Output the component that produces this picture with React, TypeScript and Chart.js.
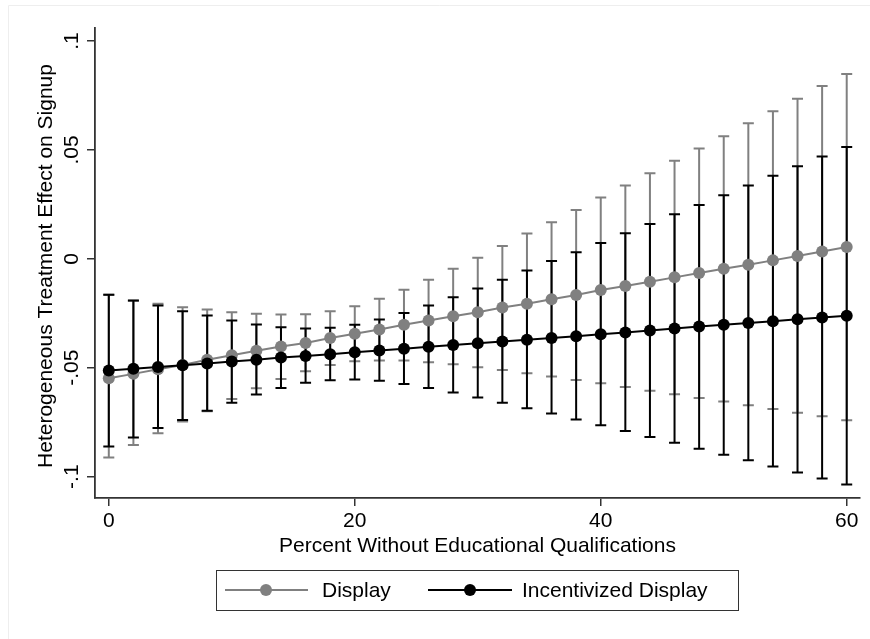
import React, { useEffect, useRef } from "react";
import { Chart, registerables } from "chart.js";

Chart.register(...registerables);

const xValues = [0, 2, 4, 6, 8, 10, 12, 14, 16, 18, 20, 22, 24, 26, 28, 30, 32, 34, 36, 38, 40, 42, 44, 46, 48, 50, 52, 54, 56, 58, 60];

const displayEst = [-0.0548, -0.0528, -0.0507, -0.0487, -0.0463, -0.0443, -0.0422, -0.0402, -0.0386, -0.0363, -0.0344, -0.0324, -0.0303, -0.0283, -0.0263, -0.0245, -0.0223, -0.0206, -0.0185, -0.0166, -0.0143, -0.0125, -0.0105, -0.0085, -0.0065, -0.0045, -0.0027, -0.0007, 0.0013, 0.0034, 0.0054];
const displayUpper = [-0.0165, -0.0192, -0.0206, -0.0222, -0.0232, -0.0245, -0.0252, -0.0256, -0.0254, -0.0241, -0.0218, -0.0183, -0.0142, -0.0096, -0.0045, 0.0005, 0.0059, 0.0116, 0.0168, 0.0224, 0.0282, 0.0337, 0.0393, 0.045, 0.0507, 0.0563, 0.0622, 0.0678, 0.0735, 0.0793, 0.0849];
const displayLower = [-0.0912, -0.0855, -0.0801, -0.0747, -0.07, -0.0643, -0.0594, -0.0551, -0.0516, -0.0487, -0.047, -0.0467, -0.0467, -0.0475, -0.0484, -0.0498, -0.051, -0.0525, -0.054, -0.0556, -0.0571, -0.0588, -0.0605, -0.0622, -0.0639, -0.0655, -0.0672, -0.0689, -0.0706, -0.0723, -0.0741];

const incentEst = [-0.0513, -0.0505, -0.0496, -0.0488, -0.048, -0.0471, -0.0463, -0.0453, -0.0446, -0.0438, -0.0429, -0.0421, -0.0413, -0.0404, -0.0396, -0.0387, -0.0379, -0.0371, -0.0363, -0.0355, -0.0346, -0.0338, -0.0329, -0.032, -0.0311, -0.0302, -0.0294, -0.0286, -0.0277, -0.0269, -0.0261];
const incentUpper = [-0.0165, -0.0191, -0.0214, -0.024, -0.026, -0.0283, -0.0301, -0.0314, -0.032, -0.0316, -0.0303, -0.0278, -0.0249, -0.0214, -0.0176, -0.0136, -0.0096, -0.0053, -0.001, 0.003, 0.0073, 0.0117, 0.016, 0.0205, 0.0247, 0.0292, 0.0337, 0.0381, 0.0425, 0.047, 0.0514];
const incentLower = [-0.0861, -0.082, -0.0777, -0.074, -0.0697, -0.066, -0.0623, -0.0593, -0.0569, -0.0557, -0.0554, -0.056, -0.0574, -0.0593, -0.0614, -0.0637, -0.066, -0.0686, -0.071, -0.0737, -0.0764, -0.079, -0.0818, -0.0844, -0.0872, -0.0899, -0.0925, -0.0953, -0.0981, -0.1008, -0.1036];

const xTicks = [0, 20, 40, 60];
const xTickLabels = ["0", "20", "40", "60"];
const yTicks = [-0.1, -0.05, 0, 0.05, 0.1];
const yTickLabels = ["-.1", "-.05", "0", ".05", ".1"];

const seriesNames = ["Display", "Incentivized Display"];
const seriesColors = ["#808080", "#000000"];
const xTitle = "Percent Without Educational Qualifications";
const yTitle = "Heterogeneous Treatment Effect on Signup";

const FONT = '"Liberation Sans", Arial, Helvetica, sans-serif';

const errorBarPlugin = {
  id: "errorBars",
  beforeDatasetsDraw(chart: any) {
    const { ctx, scales } = chart;
    const xs = scales.x;
    const ys = scales.y;
    const groups = [
      { lo: displayLower, hi: displayUpper, color: seriesColors[0] },
      { lo: incentLower, hi: incentUpper, color: seriesColors[1] },
    ];
    ctx.save();
    for (const g of groups) {
      ctx.strokeStyle = g.color;
      ctx.lineWidth = 2;
      for (let i = 0; i < xValues.length; i++) {
        const px = xs.getPixelForValue(xValues[i]);
        const pl = ys.getPixelForValue(g.lo[i]);
        const ph = ys.getPixelForValue(g.hi[i]);
        ctx.beginPath();
        ctx.moveTo(px, pl);
        ctx.lineTo(px, ph);
        ctx.moveTo(px - 5.5, pl);
        ctx.lineTo(px + 5.5, pl);
        ctx.moveTo(px - 5.5, ph);
        ctx.lineTo(px + 5.5, ph);
        ctx.stroke();
      }
    }
    ctx.restore();
  },
};

const textPlugin = {
  id: "stataText",
  afterDraw(chart: any) {
    const { ctx, scales, chartArea } = chart;
    const xs = scales.x;
    const ys = scales.y;
    ctx.save();
    // faint outer frame
    ctx.strokeStyle = "#eeeeee";
    ctx.lineWidth = 1;
    ctx.beginPath();
    ctx.moveTo(8.5, 639);
    ctx.lineTo(8.5, 5.5);
    ctx.lineTo(870, 5.5);
    ctx.stroke();

    ctx.fillStyle = "#000";
    ctx.font = `21px ${FONT}`;
    // x tick labels
    ctx.textAlign = "center";
    ctx.textBaseline = "middle";
    xTicks.forEach((v, i) => {
      ctx.fillText(xTickLabels[i], xs.getPixelForValue(v), 521);
    });
    // x title
    ctx.fillText(xTitle, (chartArea.left + chartArea.right) / 2, 546);
    // y tick labels (rotated)
    yTicks.forEach((v, i) => {
      ctx.save();
      ctx.translate(72, ys.getPixelForValue(v));
      ctx.rotate(-Math.PI / 2);
      ctx.fillText(yTickLabels[i], 0, 0);
      ctx.restore();
    });
    // y title
    ctx.save();
    ctx.translate(46, (chartArea.top + chartArea.bottom) / 2 + 3);
    ctx.rotate(-Math.PI / 2);
    ctx.fillText(yTitle, 0, 0);
    ctx.restore();

    // legend
    ctx.strokeStyle = "#333";
    ctx.lineWidth = 1;
    ctx.strokeRect(216.5, 570.5, 522, 40);
    const items = [
      { x0: 225, x1: 308, mx: 266, tx: 322 },
      { x0: 428, x1: 512, mx: 470, tx: 522 },
    ];
    items.forEach((it, i) => {
      const c = seriesColors[i];
      ctx.strokeStyle = c;
      ctx.lineWidth = 2;
      ctx.beginPath();
      ctx.moveTo(it.x0, 590);
      ctx.lineTo(it.x1, 590);
      ctx.stroke();
      ctx.fillStyle = c;
      ctx.beginPath();
      ctx.arc(it.mx, 590, 6, 0, Math.PI * 2);
      ctx.fill();
      ctx.fillStyle = "#000";
      ctx.textAlign = "left";
      ctx.fillText(seriesNames[i], it.tx, 591);
    });
    ctx.restore();
  },
};

export default function App() {
  const ref = useRef<HTMLCanvasElement | null>(null);
  useEffect(() => {
    if (!ref.current) return;
    const axisColor = "#333";
    const chart = new Chart(ref.current, {
      type: "line",
      data: {
        datasets: [
          {
            label: seriesNames[0],
            data: xValues.map((x, i) => ({ x, y: displayEst[i] })),
            borderColor: seriesColors[0],
            backgroundColor: seriesColors[0],
            pointBackgroundColor: seriesColors[0],
            pointBorderWidth: 0,
            pointRadius: 6,
            borderWidth: 2,
            order: 1,
          },
          {
            label: seriesNames[1],
            data: xValues.map((x, i) => ({ x, y: incentEst[i] })),
            borderColor: seriesColors[1],
            backgroundColor: seriesColors[1],
            pointBackgroundColor: seriesColors[1],
            pointBorderWidth: 0,
            pointRadius: 6,
            borderWidth: 2,
            order: 0,
          },
        ],
      },
      options: {
        responsive: false,
        animation: false,
        layout: { padding: { left: 86, right: 10, top: 28, bottom: 132 } },
        plugins: {
          legend: { display: false },
          tooltip: { enabled: false },
        },
        scales: {
          x: {
            type: "linear",
            min: -1.122,
            max: 61.08,
            afterBuildTicks: (s: any) => {
              s.ticks = xTicks.map((v) => ({ value: v }));
            },
            afterFit: (s: any) => {
              s.height = 9;
            },
            ticks: { display: false },
            grid: {
              display: true,
              drawOnChartArea: false,
              drawTicks: true,
              tickLength: 8,
              color: axisColor,
              lineWidth: 1.5,
            },
            border: { display: true, color: axisColor, width: 1.8 },
          },
          y: {
            type: "linear",
            min: -0.10978,
            max: 0.10597,
            afterBuildTicks: (s: any) => {
              s.ticks = yTicks.map((v) => ({ value: v }));
            },
            afterFit: (s: any) => {
              s.width = 9;
            },
            ticks: { display: false },
            grid: {
              display: true,
              drawOnChartArea: false,
              drawTicks: true,
              tickLength: 8,
              color: axisColor,
              lineWidth: 1.5,
            },
            border: { display: true, color: axisColor, width: 1.8 },
          },
        },
      },
      plugins: [errorBarPlugin, textPlugin],
    } as any);
    return () => chart.destroy();
  }, []);
  return (
    <div style={{ position: "absolute", left: 0, top: 0, width: 870, height: 639, background: "#fff" }}>
      <canvas ref={ref} width={870} height={639} style={{ display: "block" }} />
    </div>
  );
}
